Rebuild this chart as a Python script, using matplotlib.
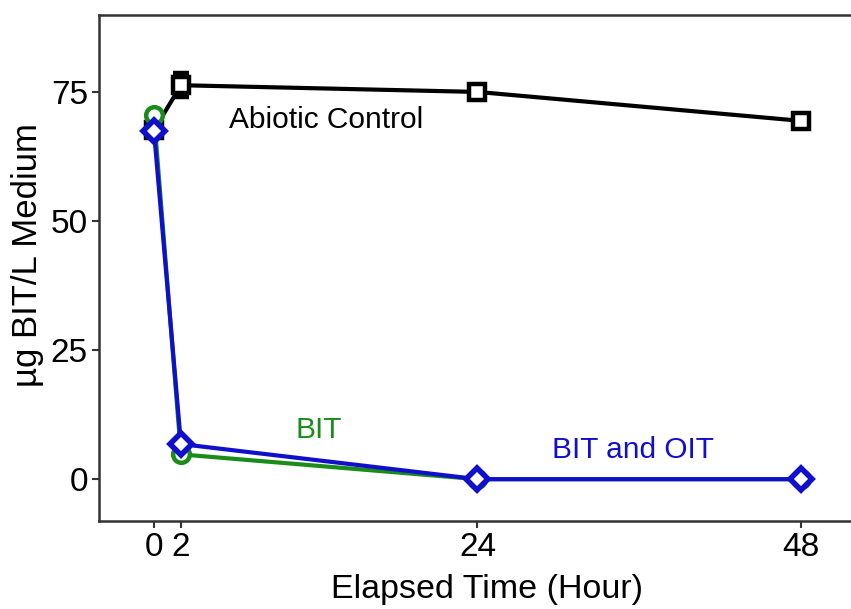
import matplotlib
matplotlib.use("Agg")
import matplotlib.pyplot as plt

plt.rcParams['font.family'] = ['Liberation Sans', 'DejaVu Sans']

hours = [0, 2, 24, 48]
abiotic = [67.6, 76.3, 75.0, 69.4]
abiotic_err = [0.8, 2.3, 0.8, 0.8]
bit = [70.5, 4.8, 0.0, 0.0]
bit_oit = [67.4, 6.8, 0.0, 0.0]

fig = plt.figure(figsize=(8.51, 6.09), dpi=100)
ax = fig.add_axes([99/851, 88/609, 757/851, 506/609])

ax.errorbar(hours, abiotic, yerr=abiotic_err, color='black', lw=3, marker='s',
            ms=12, mfc='white', mec='black', mew=3.2, capsize=6, capthick=2.5, elinewidth=2.5, zorder=3)
ax.plot(hours, bit, color='#1a8c1a', lw=3, marker='o', ms=12, mfc='white', mec='#1a8c1a', mew=3.2, zorder=4)
ax.plot(hours, bit_oit, color='#1010cc', lw=3, marker='D', ms=11, mfc='white', mec='#1010cc', mew=4, zorder=5)

ax.text(12.8, 69.5, 'Abiotic Control', color='black', fontsize=21.5, ha='center', va='center')
ax.text(12.2, 9.5, 'BIT', color='#1a8c1a', fontsize=21.5, ha='center', va='center')
ax.text(35.5, 5.6, 'BIT and OIT', color='#1010cc', fontsize=21.5, ha='center', va='center')

ax.set_xlim(-4.08, 52.08)
ax.set_ylim(-8.1, 89.9)
ax.set_xticks(hours)
ax.set_yticks([0, 25, 50, 75])
ax.tick_params(labelsize=24, length=5, width=1.5, color='#333333', direction='out', pad=3)
for s in ax.spines.values():
    s.set_linewidth(1.8)
    s.set_color('#333333')
ax.set_xlabel('Elapsed Time (Hour)', fontsize=24.5, labelpad=9)
ax.set_ylabel('µg BIT/L Medium', fontsize=25)
ax.yaxis.set_label_coords(-0.073, 0.526)
ax.xaxis.set_label_coords(0.513, -0.105)

fig.savefig('out.png', dpi=100)
